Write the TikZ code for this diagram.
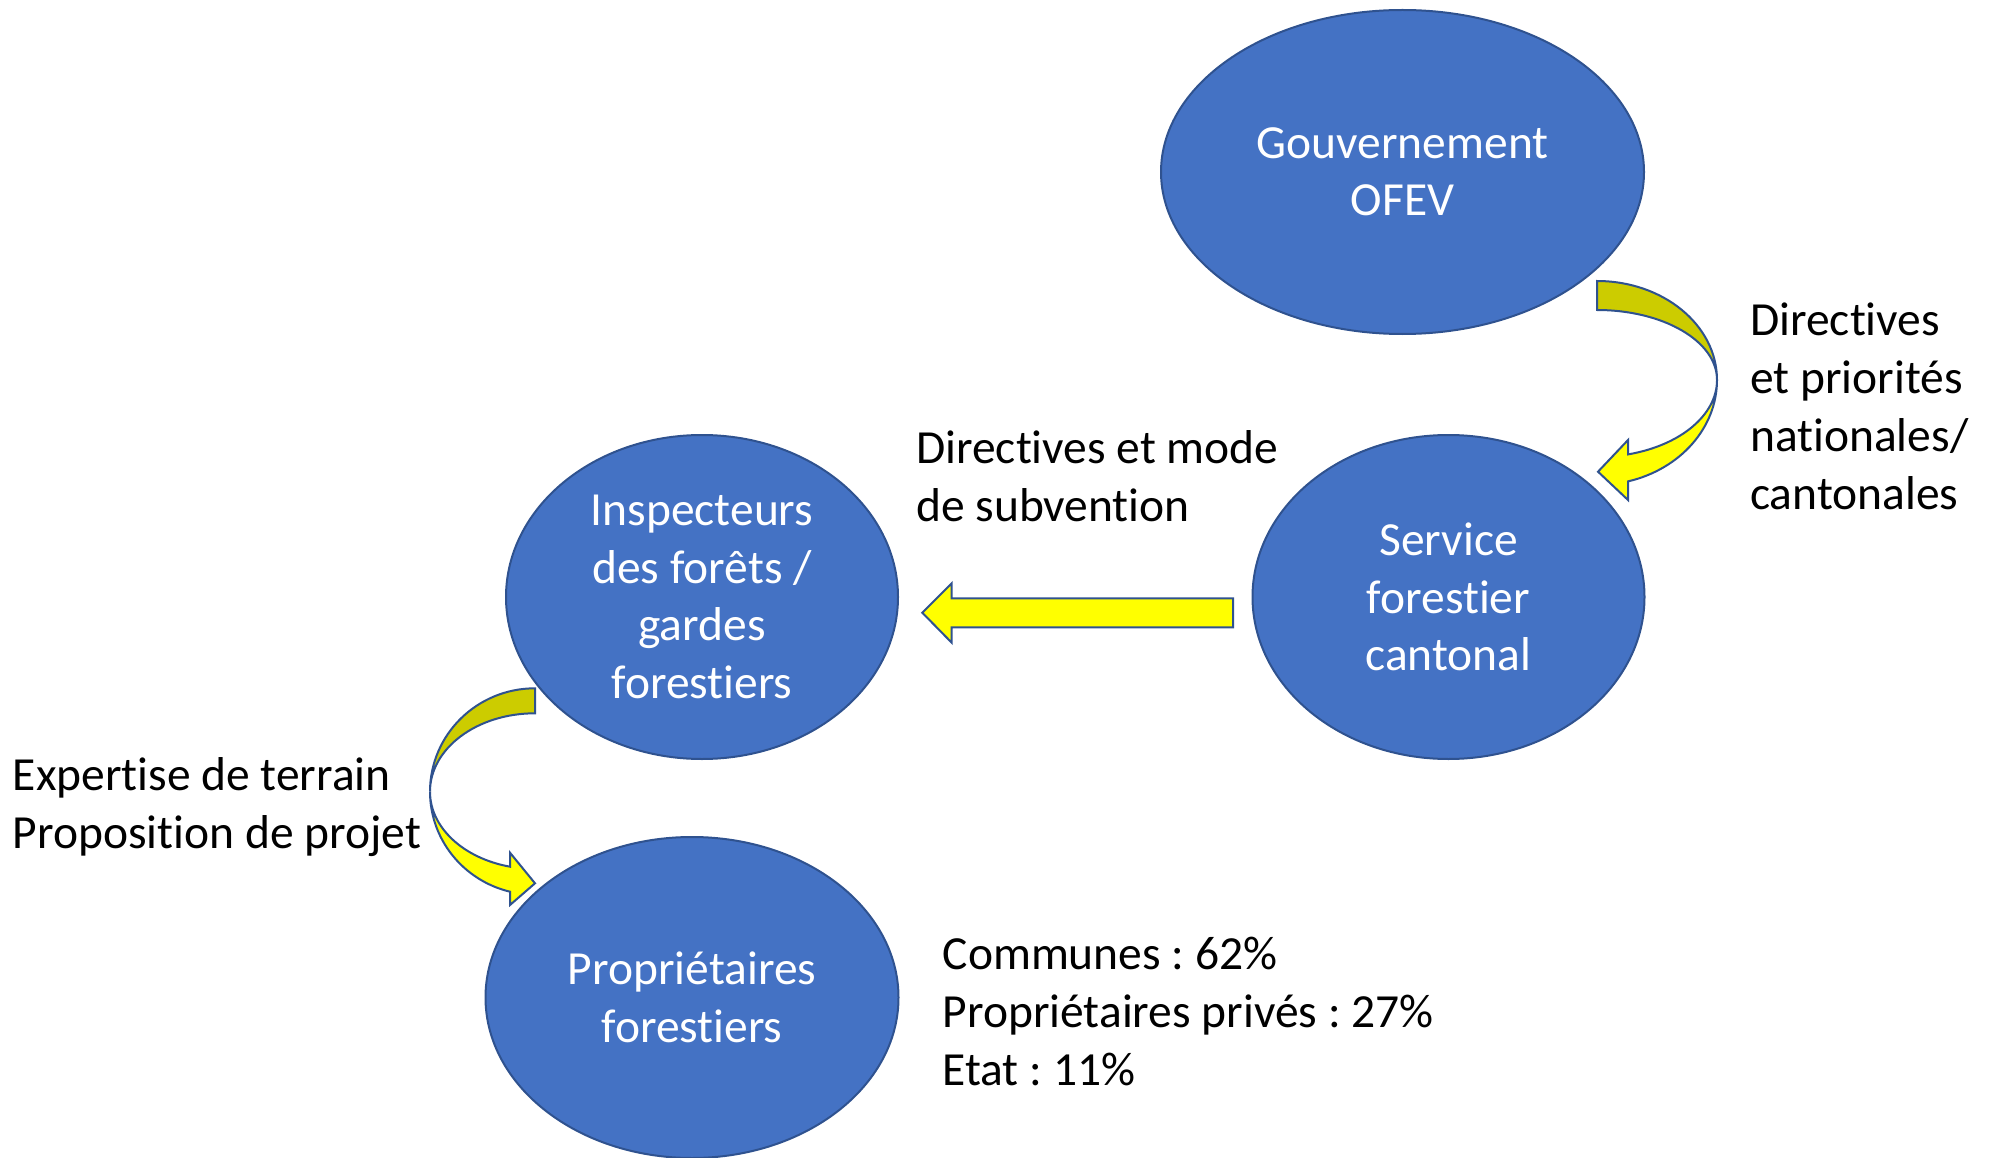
\documentclass[tikz,border=0pt]{standalone}
\usepackage{fontspec}
\setmainfont{Carlito}[Ligatures=NoCommon]
\usepackage{tikz}
\usetikzlibrary{shapes.geometric}
\frenchspacing
% t et i sans ligature
\newcommand{\tii}{t\kern0pt i}

\definecolor{bulle}{HTML}{4472C4}
\definecolor{bord}{HTML}{2F528F}
\definecolor{jaune}{HTML}{FFFF00}
\definecolor{jaunefonce}{HTML}{CCCC00}

\begin{document}
\begin{tikzpicture}[x=1pt,y=-1pt,
    acteur/.style={shape=ellipse,fill=bulle,draw=bord,line width=2pt,inner sep=0pt,
      text=white,align=center,font=\fontsize{47.5}{57.5}\selectfont},
    legende/.style={anchor=west,align=left,inner sep=0pt,
      font=\fontsize{47.5}{58}\selectfont},
    fleche/.style={fill=jaune,draw=bord,line width=2pt,line join=miter},
    dessous/.style={fill=jaunefonce,draw=bord,line width=2pt,line join=miter}]
    \useasboundingbox (0,0) rectangle (1989,1158);

    \node[acteur,minimum width=483pt,minimum height=324pt] (gouv) at (1402.5,172) {Gouvernement\\OFEV};
    \node[acteur,minimum width=392pt,minimum height=324pt] (service) at (1448.5,597) {Service\\fores\tii er\\cantonal};
    \node[acteur,minimum width=392pt,minimum height=324pt] (inspect) at (702,597) {Inspecteurs\\des forêts /\\gardes\\fores\tii ers};
    \node[acteur,minimum width=413pt,minimum height=321pt] (proprio) at (692,997.5) {Propriétaires\\fores\tii ers};

    % fleche courbe gouvernement -> service
    \draw[dessous] (1597,281) .. controls (1663,281) and (1717,325) .. (1717,380)
      .. controls (1717,341) and (1663,310) .. (1597,310) -- cycle;
    \draw[fleche] (1717,380) .. controls (1717,427.5) and (1680.5,469.1) .. (1628,481.4)
      -- (1628,500) -- (1598,471.7) -- (1628,440) -- (1628,454.4)
      .. controls (1680.5,445.4) and (1717,414.9) .. (1717,380) -- cycle;

    % fleche droite service -> inspecteurs
    \draw[fleche] (1233,598.3) -- (951.7,598.3) -- (951.7,583.3) -- (922.3,612.7)
      -- (951.7,642.7) -- (951.7,627.3) -- (1233,627.3) -- cycle;

    % fleche courbe inspecteurs -> proprietaires
    \draw[dessous] (535,688.3) .. controls (477,688.3) and (430,734.6) .. (430,791.7)
      .. controls (430,748.4) and (477,713.3) .. (535,713.3) -- cycle;
    \draw[fleche] (430,791.7) .. controls (430,839.1) and (463,880.4) .. (510,891.7)
      -- (510,905) -- (535,883.3) -- (510,852.7) -- (510,866.7)
      .. controls (463,858.2) and (430,827.2) .. (430,791.7) -- cycle;

    \node[legende] (dirnat) at (1750,406) {Direc\tii ves\\et priorités\\na\tii onales/\\cantonales};
    \node[legende] (dirsub) at (916,476) {Direc\tii ves et mode\\de subven\tii on};
    \node[legende] (expert) at (12.7,807) {Exper\tii se de terrain\\Proposi\tii on de projet};
    \node[legende] (parts) at (942.5,1011) {Communes : 62\%\\Propriétaires privés : 27\%\\Etat : 11\%};
  \end{tikzpicture}
\end{document}
